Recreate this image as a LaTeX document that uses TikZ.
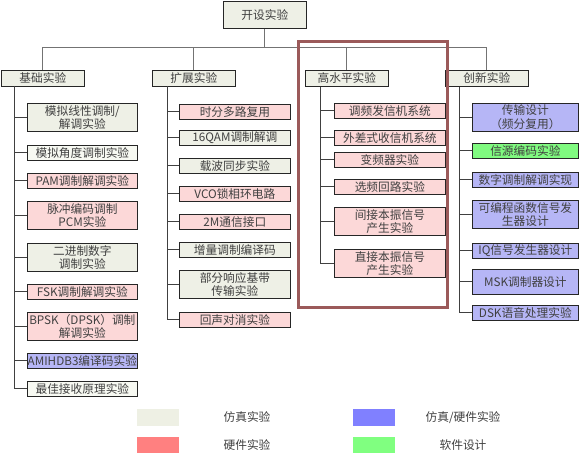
\documentclass[tikz,border=0pt]{standalone}
\usepackage{fontspec}
\setmainfont{Noto Sans CJK SC}
\usetikzlibrary{shadows}
\definecolor{gfill}{HTML}{EEF0E6}
\definecolor{wfill}{HTML}{F7F9F2}
\definecolor{pfill}{HTML}{FCD8D8}
\definecolor{bfill}{HTML}{B6B6F6}
\definecolor{nfill}{HTML}{80FA80}
\definecolor{lgray}{HTML}{EEF0E4}
\definecolor{lpink}{HTML}{FF8080}
\definecolor{lblue}{HTML}{8080FF}
\definecolor{lgreen}{HTML}{80FF80}
\definecolor{txt}{HTML}{404040}
\definecolor{frame}{HTML}{9B5A5A}
\begin{document}
\begin{tikzpicture}[x=1pt,y=-1pt,
  box/.style={draw=black!85, line width=0.7pt, inner sep=0pt, align=center,
    anchor=north west, text=txt, font=\fontsize{11.7}{13.5}\selectfont,
    general shadow={fill=black!55, shadow xshift=0.9pt, shadow yshift=-0.9pt}},
  gbox/.style={box, fill=gfill},
  wbox/.style={box, fill=wfill},
  pbox/.style={box, fill=pfill},
  bbox/.style={box, fill=bfill},
  nbox/.style={box, fill=nfill},
  one/.style={minimum height=15pt},
  two/.style={minimum height=28pt},
  catw/.style={minimum width=83pt, minimum height=16pt},
  colA/.style={minimum width=110pt},
  colB/.style={minimum width=111pt},
  colC/.style={minimum width=111pt},
  colD/.style={minimum width=106pt},
  busline/.style={draw=black!55, line width=0.8pt},
  conn/.style={draw=black!75, line width=0.8pt},
  legbox/.style={inner sep=0pt, minimum width=42pt, minimum height=17pt, anchor=north west},
  legtext/.style={text=txt, font=\fontsize{11.7}{13}\selectfont}
]
\fill[white] (0,0) rectangle (580,454);
\useasboundingbox (0,0) rectangle (580,454);

% top node and categories
\node[gbox, minimum width=83pt, minimum height=27pt] (top) at (223,1) {开设实验};
\node[gbox, catw] (j1) at (1,70) {基础实验};
\node[gbox, catw] (j2) at (152,70) {扩展实验};
\node[gbox, catw] (j3) at (305,70) {高水平实验};
\node[gbox, catw] (j4) at (445,70) {创新实验};

\coordinate (bus) at (0,47.5);
\draw[busline] (top.south) -- (top.south |- bus);
\draw[busline] (j1.north |- bus) -- (j4.north |- bus);
\draw[busline] (j1.north |- bus) -- (j1.north);
\draw[busline] (j2.north |- bus) -- (j2.north);
\draw[busline] (j3.north |- bus) -- (j3.north);
\draw[busline] (j4.north |- bus) -- (j4.north);

% column 1
\node[gbox, colA, two] (a1) at (27,103) {模拟线性调制/\\解调实验};
\node[wbox, colA, one] (a2) at (27,145) {模拟角度调制实验};
\node[pbox, colA, one] (a3) at (27,173) {PAM调制解调实验};
\node[pbox, colA, two] (a4) at (27,201) {脉冲编码调制\\PCM实验};
\node[gbox, colA, two] (a5) at (27,243) {二进制数字\\调制实验};
\node[pbox, colA, one] (a6) at (27,284) {FSK调制解调实验};
\node[pbox, colA, two] (a7) at (27,312) {BPSK（DPSK）调制\\解调实验};
\node[bbox, colA, one] (a8) at (27,353) {AMIHDB3编译码实验};
\node[wbox, colA, one] (a9) at (27,381) {最佳接收原理实验};
\coordinate (t1) at (14,86);
\draw[conn] (t1) -- (t1 |- a9.west);
\foreach \n in {a1,a2,a3,a4,a5,a6,a7,a8,a9} \draw[conn] (t1 |- \n.west) -- (\n.west);

% column 2
\node[pbox, colB, one] (b1) at (179,104) {时分多路复用};
\node[gbox, colB, one] (b2) at (179,130) {16QAM调制解调};
\node[gbox, colB, one] (b3) at (179,158) {载波同步实验};
\node[pbox, colB, one] (b4) at (179,186) {VCO锁相环电路};
\node[pbox, colB, one] (b5) at (179,214) {2M通信接口};
\node[gbox, colB, one] (b6) at (179,242) {增量调制编译码};
\node[gbox, colB, two] (b7) at (179,270) {部分响应基带\\传输实验};
\node[pbox, colB, one] (b8) at (179,312) {回声对消实验};
\coordinate (t2) at (167,86);
\draw[conn] (t2) -- (t2 |- b8.west);
\foreach \n in {b1,b2,b3,b4,b5,b6,b7,b8} \draw[conn] (t2 |- \n.west) -- (\n.west);

% column 3
\node[pbox, colC, one] (c1) at (334,103) {调频发信机系统};
\node[pbox, colC, one] (c2) at (334,130) {外差式收信机系统};
\node[pbox, colC, one] (c3) at (334,152) {变频器实验};
\node[pbox, colC, one] (c4) at (334,179) {选频回路实验};
\node[pbox, colC, two] (c5) at (334,207) {间接本振信号\\产生实验};
\node[pbox, colC, two] (c6) at (334,249) {直接本振信号\\产生实验};
\coordinate (t3) at (320,87);
\draw[conn] (t3) -- (t3 |- c6.west);
\foreach \n in {c1,c2,c3,c4,c5,c6} \draw[conn] (t3 |- \n.west) -- (\n.west);

% column 4
\node[bbox, colD, two] (d1) at (472,103) {传输设计\\（频分复用）};
\node[nbox, colD, one] (d2) at (472,143) {信源编码实验};
\node[bbox, colD, one] (d3) at (472,172) {数字调制解调实现};
\node[bbox, colD, two] (d4) at (472,200) {可编程函数信号发\\生器设计};
\node[bbox, colD, one] (d5) at (472,243) {IQ信号发生器设计};
\node[bbox, colD, minimum height=25pt] (d6) at (472,269) {MSK调制器设计};
\node[bbox, colD, one] (d7) at (472,305) {DSK语音处理实验};
\coordinate (t4) at (459,87);
\draw[conn] (t4) -- (t4 |- d7.west);
\foreach \n in {d1,d2,d3,d4,d5,d6,d7} \draw[conn] (t4 |- \n.west) -- (\n.west);

% highlight frame
\draw[frame, line width=2.7pt] (298.5,41.5) rectangle (447.5,307.5);

% legend
\node[legbox, fill=lgray] (l1) at (137,409) {};
\node[legbox, fill=lblue] (l2) at (353,409) {};
\node[legbox, fill=lpink, minimum height=16pt] (l3) at (137,437) {};
\node[legbox, fill=lgreen, minimum height=16pt] (l4) at (353,437) {};
\node[legtext] (lt1) at (247,417.5) {仿真实验};
\node[legtext] (lt2) at (463,417.5) {仿真/硬件实验};
\node[legtext] (lt3) at (247,445) {硬件实验};
\node[legtext] (lt4) at (463,445) {软件设计};
\end{tikzpicture}
\end{document}
